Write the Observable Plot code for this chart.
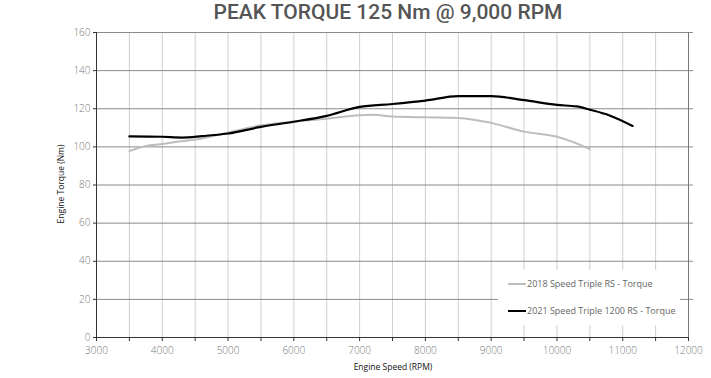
<!DOCTYPE html>
<html>
<head>
<meta charset="utf-8">
<script src="https://cdn.jsdelivr.net/npm/d3@7"></script>
<script src="https://cdn.jsdelivr.net/npm/@observablehq/plot@0.6"></script>
<style>
  html, body { margin: 0; padding: 0; background: #fff; }
  #wrap { position: relative; width: 711px; height: 378px; overflow: hidden; font-family: "Open Sans", sans-serif; }
  #title { height: 22px; text-align: center; font-family: Roboto, sans-serif; font-weight: 500; font-size: 21px; line-height: 22px; color: #555; padding-left: 65px; padding-top: 1px; box-sizing: border-box; }
  .ylab { position: absolute; left: 60px; top: 184px; transform: translate(-50%, -50%) rotate(-90deg); font-size: 8.5px; color: #111; white-space: nowrap; }
  .xlab { position: absolute; left: 393px; top: 366px; transform: translate(-50%, -50%); font-size: 8.5px; color: #111; white-space: nowrap; }
  #legend { position: absolute; left: 498px; top: 270px; width: 182px; height: 55px; background: #fff; font-size: 9px; color: #666; }
  .item { position: absolute; left: 10px; display: flex; align-items: center; white-space: nowrap; }
  .sw { width: 18px; height: 2px; margin-right: 1px; }
</style>
</head>
<body>
<div id="wrap">
  <div id="title">PEAK TORQUE 125 Nm @ 9,000 RPM</div>
  <div id="chart"></div>
  <div class="ylab">Engine Torque (Nm)</div>
  <div class="xlab">Engine Speed (RPM)</div>
  <div id="legend"></div>
</div>
<script>
const seriesNames = ["2018 Speed Triple RS - Torque", "2021 Speed Triple 1200 RS - Torque"];
const seriesColors = ["#bdbdbd", "#000000"];

const rpm2018 = [3500, 3750, 4000, 4250, 4500, 5000, 5500, 6000, 6500, 7000, 7200, 7500, 8000, 8500, 9000, 9500, 10000, 10250, 10500];
const tq2018  = [97.8, 100.5, 101.5, 102.8, 103.8, 107.5, 111.3, 113.3, 114.8, 116.6, 116.8, 115.9, 115.5, 115.2, 112.6, 108, 105.3, 102.5, 98.8];

const rpm2021 = [3500, 4000, 4300, 4600, 5000, 5500, 6000, 6500, 7000, 7500, 8000, 8500, 9000, 9500, 10000, 10300, 10500, 10800, 11150];
const tq2021  = [105.5, 105.3, 104.9, 105.6, 107, 110.5, 113.2, 116.3, 121, 122.5, 124.3, 126.6, 126.6, 124.5, 122, 121.2, 119.5, 116.5, 111];

const xTicks = d3.range(3000, 12001, 500);
const xGrid = d3.range(3500, 11501, 500);
const yTicks = d3.range(0, 161, 20);
const yGrid = d3.range(20, 161, 20);

const d2018 = rpm2018.map((r, i) => ({rpm: r, tq: tq2018[i]}));
const d2021 = rpm2021.map((r, i) => ({rpm: r, tq: tq2021[i]}));

const chart = Plot.plot({
  width: 711,
  height: 356,
  marginLeft: 96,
  marginRight: 23,
  marginTop: 10,
  marginBottom: 41,
  style: {fontFamily: "Open Sans, sans-serif", fontSize: "10px", color: "#777", background: "transparent"},
  x: {domain: [3000, 12000]},
  y: {domain: [0, 160]},
  marks: [
    Plot.gridX(xGrid, {stroke: "#cfcfcf", strokeOpacity: 1}),
    Plot.gridY(yGrid, {stroke: "#8a8a8a", strokeOpacity: 1}),
    Plot.ruleX([12000], {stroke: "#777"}),
    Plot.axisY(yGrid, {anchor: "right", tickSize: 4, tickFormat: () => "", stroke: "#8a8a8a", label: null}),
    Plot.axisX(xTicks, {tickSize: 4, tickPadding: 5, stroke: "#333", fill: "#777", fontWeight: 300,
      tickFormat: d => d % 1000 === 0 ? String(d) : "", label: null}),
    Plot.axisY(yTicks, {tickSize: 3, tickPadding: 3, stroke: "#333", fill: "#777", fontWeight: 300, label: null}),
    Plot.ruleX([3000], {stroke: "#333"}),
    Plot.ruleY([0], {stroke: "#333"}),
    Plot.line(d2018, {x: "rpm", y: "tq", stroke: seriesColors[0], strokeWidth: 2, curve: "monotone-x"}),
    Plot.line(d2021, {x: "rpm", y: "tq", stroke: seriesColors[1], strokeWidth: 2.2, curve: "monotone-x"})
  ]
});
document.getElementById("chart").appendChild(chart);

const legend = document.getElementById("legend");
seriesNames.forEach((name, i) => {
  const it = document.createElement("div");
  it.className = "item";
  it.style.top = (i === 0 ? 7 : 34) + "px";
  it.innerHTML = `<span class="sw" style="background:${seriesColors[i]}"></span><span>${name}</span>`;
  legend.appendChild(it);
});
</script>
</body>
</html>
